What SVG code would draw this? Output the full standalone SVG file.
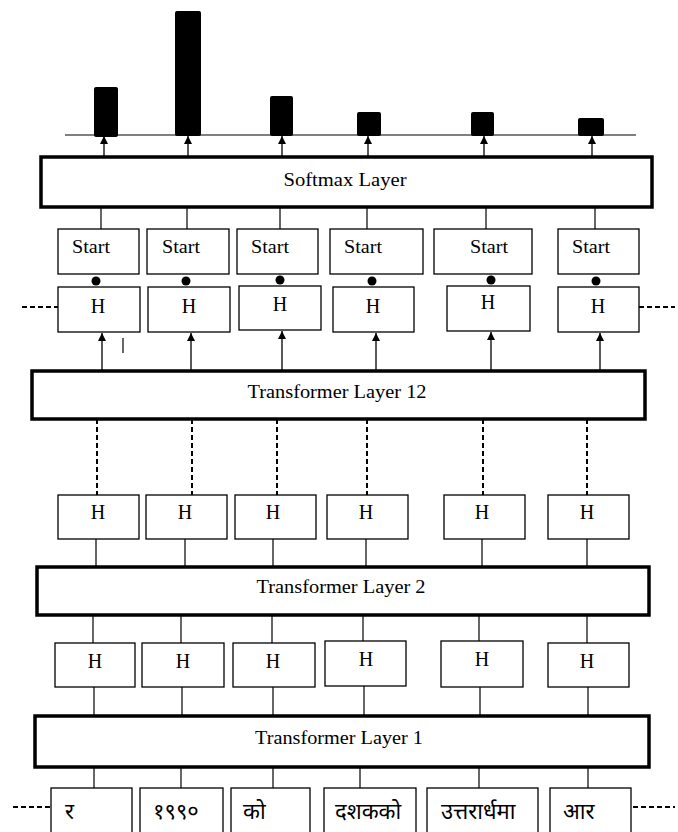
<svg xmlns="http://www.w3.org/2000/svg" width="678" height="832" viewBox="0 0 678 832">
<defs>
<marker id="ah" viewBox="0 0 8 10" refX="8" refY="5" markerWidth="8" markerHeight="10" markerUnits="userSpaceOnUse" orient="auto">
<path d="M0,1 L8,5 L0,9 Z" fill="#000"/>
</marker>
</defs>
<style>
.layer{fill:#fff;stroke:#000;stroke-width:3.5}
.box{fill:#fff;stroke:#000;stroke-width:1.3}
.bar{fill:#000}
.ln{stroke:#000;stroke-width:1.2;fill:none}
.arr{stroke:#000;stroke-width:1.3;fill:none;marker-end:url(#ah)}
.dash{stroke:#000;stroke-width:2;stroke-dasharray:5,3;fill:none}
.lt{font-family:"Liberation Serif","Times New Roman",serif;font-size:18px;fill:#000;text-anchor:middle}
.st{font-family:"Liberation Serif","Times New Roman",serif;font-size:18px;fill:#000}
.ht{font-family:"Liberation Serif","Times New Roman",serif;font-size:20px;fill:#000;text-anchor:middle}
.dt{font-family:"Noto Sans Devanagari","Lohit Devanagari","Mangal","Noto Sans",sans-serif;font-size:22px;fill:#000}
</style>
<rect width="678" height="832" fill="#fff"/>

<g id="chart">
<line class="ln" x1="65" y1="135" x2="636" y2="135" stroke-width="1.6"/>
<rect class="bar" x="94" y="87" width="24" height="50" rx="2"/>
<rect class="bar" x="175" y="11" width="26" height="125" rx="2"/>
<rect class="bar" x="270" y="96" width="23" height="40" rx="2"/>
<rect class="bar" x="357" y="112" width="24" height="24" rx="2"/>
<rect class="bar" x="471" y="112" width="23" height="24" rx="2"/>
<rect class="bar" x="578" y="118" width="26" height="18" rx="2"/>
</g>

<g id="softmax">
<rect class="layer" x="41" y="157" width="611" height="50"/>
<text class="lt" x="345" y="186" textLength="123" lengthAdjust="spacingAndGlyphs">Softmax Layer</text>
</g>

<g id="start-row">
<g id="start1"><rect class="box" x="58" y="229" width="81" height="45"/><text class="st" x="72" y="253" textLength="38" lengthAdjust="spacingAndGlyphs">Start</text></g>
<g id="start2"><rect class="box" x="147" y="229" width="82" height="45"/><text class="st" x="162" y="253" textLength="38" lengthAdjust="spacingAndGlyphs">Start</text></g>
<g id="start3"><rect class="box" x="237" y="229" width="81" height="45"/><text class="st" x="251" y="253" textLength="38" lengthAdjust="spacingAndGlyphs">Start</text></g>
<g id="start4"><rect class="box" x="330" y="229" width="93" height="45"/><text class="st" x="344" y="253" textLength="38" lengthAdjust="spacingAndGlyphs">Start</text></g>
<g id="start5"><rect class="box" x="434" y="229" width="98" height="45"/><text class="st" x="470" y="253" textLength="38" lengthAdjust="spacingAndGlyphs">Start</text></g>
<g id="start6"><rect class="box" x="558" y="229" width="81" height="45"/><text class="st" x="572" y="253" textLength="38" lengthAdjust="spacingAndGlyphs">Start</text></g>
</g>

<g id="h12-row">
<g id="h12-1"><rect class="box" x="58" y="287" width="82" height="45"/><text class="ht" x="98" y="313">H</text></g>
<g id="h12-2"><rect class="box" x="148" y="287" width="82" height="45"/><text class="ht" x="189" y="313">H</text></g>
<g id="h12-3"><rect class="box" x="239" y="286" width="82" height="44"/><text class="ht" x="280" y="311">H</text></g>
<g id="h12-4"><rect class="box" x="333" y="287" width="81" height="45"/><text class="ht" x="373" y="313">H</text></g>
<g id="h12-5"><rect class="box" x="447" y="286" width="83" height="45"/><text class="ht" x="488" y="309">H</text></g>
<g id="h12-6"><rect class="box" x="558" y="287" width="81" height="45"/><text class="ht" x="598" y="313">H</text></g>
</g>

<g id="t12">
<rect class="layer" x="32" y="371" width="613" height="48"/>
<text class="lt" x="337" y="398" textLength="179" lengthAdjust="spacingAndGlyphs">Transformer Layer 12</text>
</g>

<g id="h2-row">
<g id="h2-1"><rect class="box" x="58" y="495" width="81" height="44"/><text class="ht" x="98" y="519">H</text></g>
<g id="h2-2"><rect class="box" x="146" y="495" width="81" height="44"/><text class="ht" x="185" y="519">H</text></g>
<g id="h2-3"><rect class="box" x="235" y="495" width="81" height="44"/><text class="ht" x="273" y="519">H</text></g>
<g id="h2-4"><rect class="box" x="327" y="495" width="81" height="44"/><text class="ht" x="366" y="519">H</text></g>
<g id="h2-5"><rect class="box" x="444" y="495" width="81" height="44"/><text class="ht" x="482" y="519">H</text></g>
<g id="h2-6"><rect class="box" x="548" y="495" width="81" height="44"/><text class="ht" x="587" y="519">H</text></g>
</g>

<g id="t2">
<rect class="layer" x="37" y="567" width="612" height="48"/>
<text class="lt" x="341" y="593" textLength="169" lengthAdjust="spacingAndGlyphs">Transformer Layer 2</text>
</g>

<g id="h1-row">
<g id="h1-1"><rect class="box" x="55" y="643" width="80" height="44"/><text class="ht" x="95" y="668">H</text></g>
<g id="h1-2"><rect class="box" x="142" y="643" width="82" height="44"/><text class="ht" x="183" y="668">H</text></g>
<g id="h1-3"><rect class="box" x="233" y="643" width="82" height="44"/><text class="ht" x="273" y="668">H</text></g>
<g id="h1-4"><rect class="box" x="325" y="641" width="81" height="45"/><text class="ht" x="366" y="666">H</text></g>
<g id="h1-5"><rect class="box" x="441" y="641" width="82" height="46"/><text class="ht" x="482" y="666">H</text></g>
<g id="h1-6"><rect class="box" x="548" y="643" width="81" height="44"/><text class="ht" x="587" y="668">H</text></g>
</g>

<g id="t1">
<rect class="layer" x="35" y="716" width="614" height="51"/>
<text class="lt" x="339" y="744" textLength="168" lengthAdjust="spacingAndGlyphs">Transformer Layer 1</text>
</g>

<g id="tokens">
<g id="tok1"><rect class="box" x="51" y="788" width="81" height="60"/><text class="dt" x="65" y="819">र</text></g>
<g id="tok2"><rect class="box" x="140" y="788" width="83" height="60"/><text class="dt" x="153" y="819">१९९०</text></g>
<g id="tok3"><rect class="box" x="231" y="788" width="79" height="60"/><text class="dt" x="243" y="819">को</text></g>
<g id="tok4"><rect class="box" x="324" y="788" width="92" height="60"/><text class="dt" x="335" y="819">दशकको</text></g>
<g id="tok5"><rect class="box" x="427" y="788" width="111" height="60"/><text class="dt" x="441" y="819">उत्तरार्धमा</text></g>
<g id="tok6"><rect class="box" x="550" y="788" width="81" height="60"/><text class="dt" x="563" y="819">आर</text></g>
</g>

<g id="connectors">
<line class="arr" x1="104" y1="157" x2="104" y2="136"/>
<line class="arr" x1="188" y1="157" x2="188" y2="136"/>
<line class="arr" x1="282" y1="157" x2="282" y2="136"/>
<line class="arr" x1="368" y1="157" x2="368" y2="136"/>
<line class="arr" x1="484" y1="157" x2="484" y2="136"/>
<line class="arr" x1="592" y1="157" x2="592" y2="136"/>
<line class="ln" x1="101" y1="207" x2="101" y2="229"/>
<line class="ln" x1="187" y1="207" x2="187" y2="229"/>
<line class="ln" x1="280" y1="207" x2="280" y2="229"/>
<line class="ln" x1="367" y1="207" x2="367" y2="229"/>
<line class="ln" x1="486" y1="207" x2="486" y2="229"/>
<line class="ln" x1="595" y1="207" x2="595" y2="229"/>
<circle cx="96" cy="281" r="4.5"/>
<circle cx="186" cy="281" r="4.5"/>
<circle cx="280" cy="280" r="4.5"/>
<circle cx="372" cy="281" r="4.5"/>
<circle cx="491" cy="280" r="4.5"/>
<circle cx="596" cy="281" r="4.5"/>
<line class="dash" x1="22" y1="307" x2="58" y2="307"/>
<line class="dash" x1="639" y1="307" x2="675" y2="307"/>
<line class="ln" x1="123" y1="338" x2="123" y2="353"/>
<line class="arr" x1="102" y1="371" x2="102" y2="333"/>
<line class="arr" x1="191" y1="371" x2="191" y2="333"/>
<line class="arr" x1="282" y1="371" x2="282" y2="331"/>
<line class="arr" x1="376" y1="371" x2="376" y2="333"/>
<line class="arr" x1="491" y1="371" x2="491" y2="332"/>
<line class="arr" x1="600" y1="371" x2="600" y2="333"/>
<line class="dash" x1="97" y1="419" x2="97" y2="495"/>
<line class="dash" x1="192" y1="419" x2="192" y2="495"/>
<line class="dash" x1="277" y1="419" x2="277" y2="495"/>
<line class="dash" x1="367" y1="419" x2="367" y2="495"/>
<line class="dash" x1="483" y1="419" x2="483" y2="495"/>
<line class="dash" x1="587" y1="419" x2="587" y2="495"/>
<line class="ln" x1="96" y1="539" x2="96" y2="567"/>
<line class="ln" x1="185" y1="539" x2="185" y2="567"/>
<line class="ln" x1="273" y1="539" x2="273" y2="567"/>
<line class="ln" x1="366" y1="539" x2="366" y2="567"/>
<line class="ln" x1="482" y1="539" x2="482" y2="567"/>
<line class="ln" x1="587" y1="539" x2="587" y2="567"/>
<line class="ln" x1="93" y1="615" x2="93" y2="643"/>
<line class="ln" x1="181" y1="615" x2="181" y2="643"/>
<line class="ln" x1="272" y1="615" x2="272" y2="643"/>
<line class="ln" x1="363" y1="615" x2="363" y2="641"/>
<line class="ln" x1="479" y1="615" x2="479" y2="641"/>
<line class="ln" x1="587" y1="615" x2="587" y2="643"/>
<line class="ln" x1="94" y1="687" x2="94" y2="716"/>
<line class="ln" x1="182" y1="687" x2="182" y2="716"/>
<line class="ln" x1="273" y1="687" x2="273" y2="716"/>
<line class="ln" x1="364" y1="686" x2="364" y2="716"/>
<line class="ln" x1="480" y1="687" x2="480" y2="716"/>
<line class="ln" x1="588" y1="687" x2="588" y2="716"/>
<line class="ln" x1="94" y1="767" x2="94" y2="788"/>
<line class="ln" x1="181" y1="767" x2="181" y2="788"/>
<line class="ln" x1="273" y1="767" x2="273" y2="788"/>
<line class="ln" x1="360" y1="767" x2="360" y2="788"/>
<line class="ln" x1="479" y1="767" x2="479" y2="788"/>
<line class="ln" x1="588" y1="767" x2="588" y2="788"/>
<line class="dash" x1="13" y1="807" x2="51" y2="807"/>
<line class="dash" x1="633" y1="807" x2="675" y2="807"/>
</g>
</svg>
